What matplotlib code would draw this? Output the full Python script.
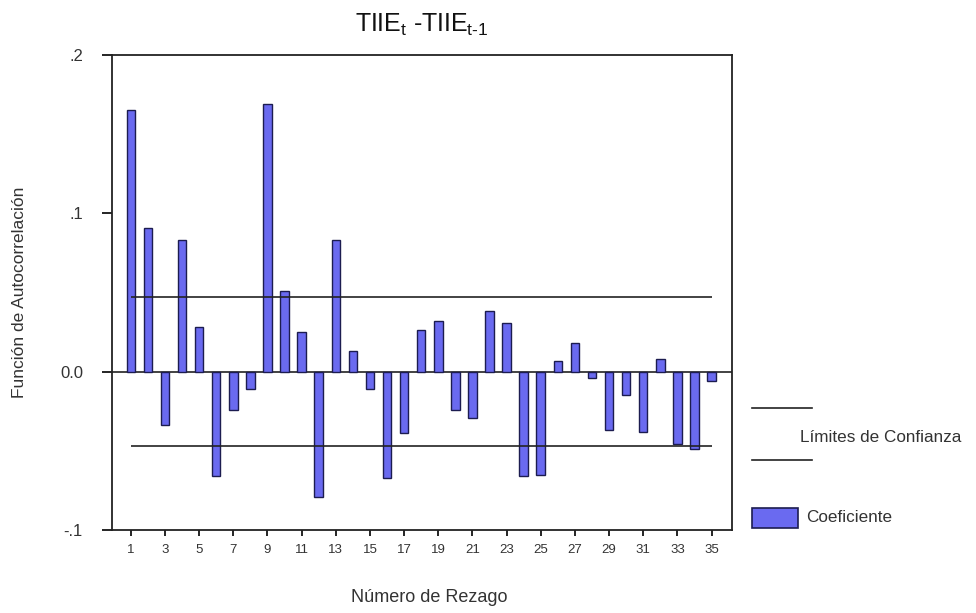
import numpy as np
import matplotlib
matplotlib.use('Agg')
import matplotlib.pyplot as plt
from matplotlib.lines import Line2D
from matplotlib.patches import Rectangle

plt.rcParams['font.family'] = ['Liberation Sans', 'DejaVu Sans']
plt.rcParams['mathtext.fontset'] = 'custom'
plt.rcParams['mathtext.rm'] = 'Liberation Sans'
plt.rcParams['mathtext.it'] = 'Liberation Sans'

# autocorrelation coefficients, lags 1..35
lags = np.arange(1, 36)
acf = [0.165, 0.091, -0.034, 0.083, 0.028, -0.066, -0.024, -0.011, 0.169, 0.051,
       0.025, -0.079, 0.083, 0.013, -0.011, -0.067, -0.039, 0.026, 0.032, -0.024,
       -0.029, 0.038, 0.031, -0.066, -0.065, 0.007, 0.018, -0.004, -0.037, -0.015,
       -0.038, 0.008, -0.046, -0.049, -0.006]
conf = 0.047
yticks = [-0.1, 0.0, 0.1, 0.2]
ytick_labels = ['-.1', '0.0', '.1', '.2']

fig = plt.figure(figsize=(9.76, 6.13), dpi=100)
ax = fig.add_axes([0.1148, 0.1354, 0.6352, 0.7749])

ax.bar(lags, acf, width=0.5, color='#6a6af0', edgecolor='#1c1c50', linewidth=1.0, zorder=2)
ax.axhline(0, color='#222222', lw=1.2, zorder=1)
ax.hlines([conf, -conf], lags[0], lags[-1], color='#222222', lw=1.2, zorder=3)

ax.set_xlim(-0.1, 36.2)
ax.set_ylim(-0.1, 0.2)
ax.set_xticks(lags[::2])
ax.set_xticklabels([str(v) for v in lags[::2]], fontsize=9.5, color='#333333')
ax.set_yticks(yticks)
ax.set_yticklabels(ytick_labels, fontsize=12, color='#333333')
ax.tick_params(axis='y', length=7, pad=14, width=1.2)
ax.tick_params(axis='x', length=4, pad=6, width=1.2)
for s in ax.spines.values():
    s.set_linewidth(1.3)
    s.set_color('#222222')

ax.set_title('TIIE$_\\mathrm{t}$ -TIIE$_{\\mathrm{t}\\text{-}\\mathrm{1}}$', fontsize=18,
             color='#111111', pad=17)
fig.text(0.44, 0.012, 'Número de Rezago', fontsize=13, color='#333333', ha='center', va='bottom')
fig.text(0.02, 0.523, 'Función de Autocorrelación', fontsize=12.5, color='#333333',
         rotation=90, ha='center', va='center')

# legend drawn outside the axes
W, H = 976, 613
for yp in (408, 460):
    fig.add_artist(Line2D([752 / W, 812 / W], [1 - yp / H, 1 - yp / H], color='#222222', lw=1.2))
fig.text(800 / W, 1 - 437 / H, 'Límites de Confianza', fontsize=12.3, color='#333333', va='center')
fig.add_artist(Rectangle((752 / W, 1 - 528 / H), 46 / W, 20 / H, facecolor='#6a6af0',
                         edgecolor='#1c1c50', lw=1.2, transform=fig.transFigure))
fig.text(806 / W, 1 - 518 / H, 'Coeficiente', fontsize=12.3, color='#333333', va='center')

fig.savefig('out.png', dpi=100)
